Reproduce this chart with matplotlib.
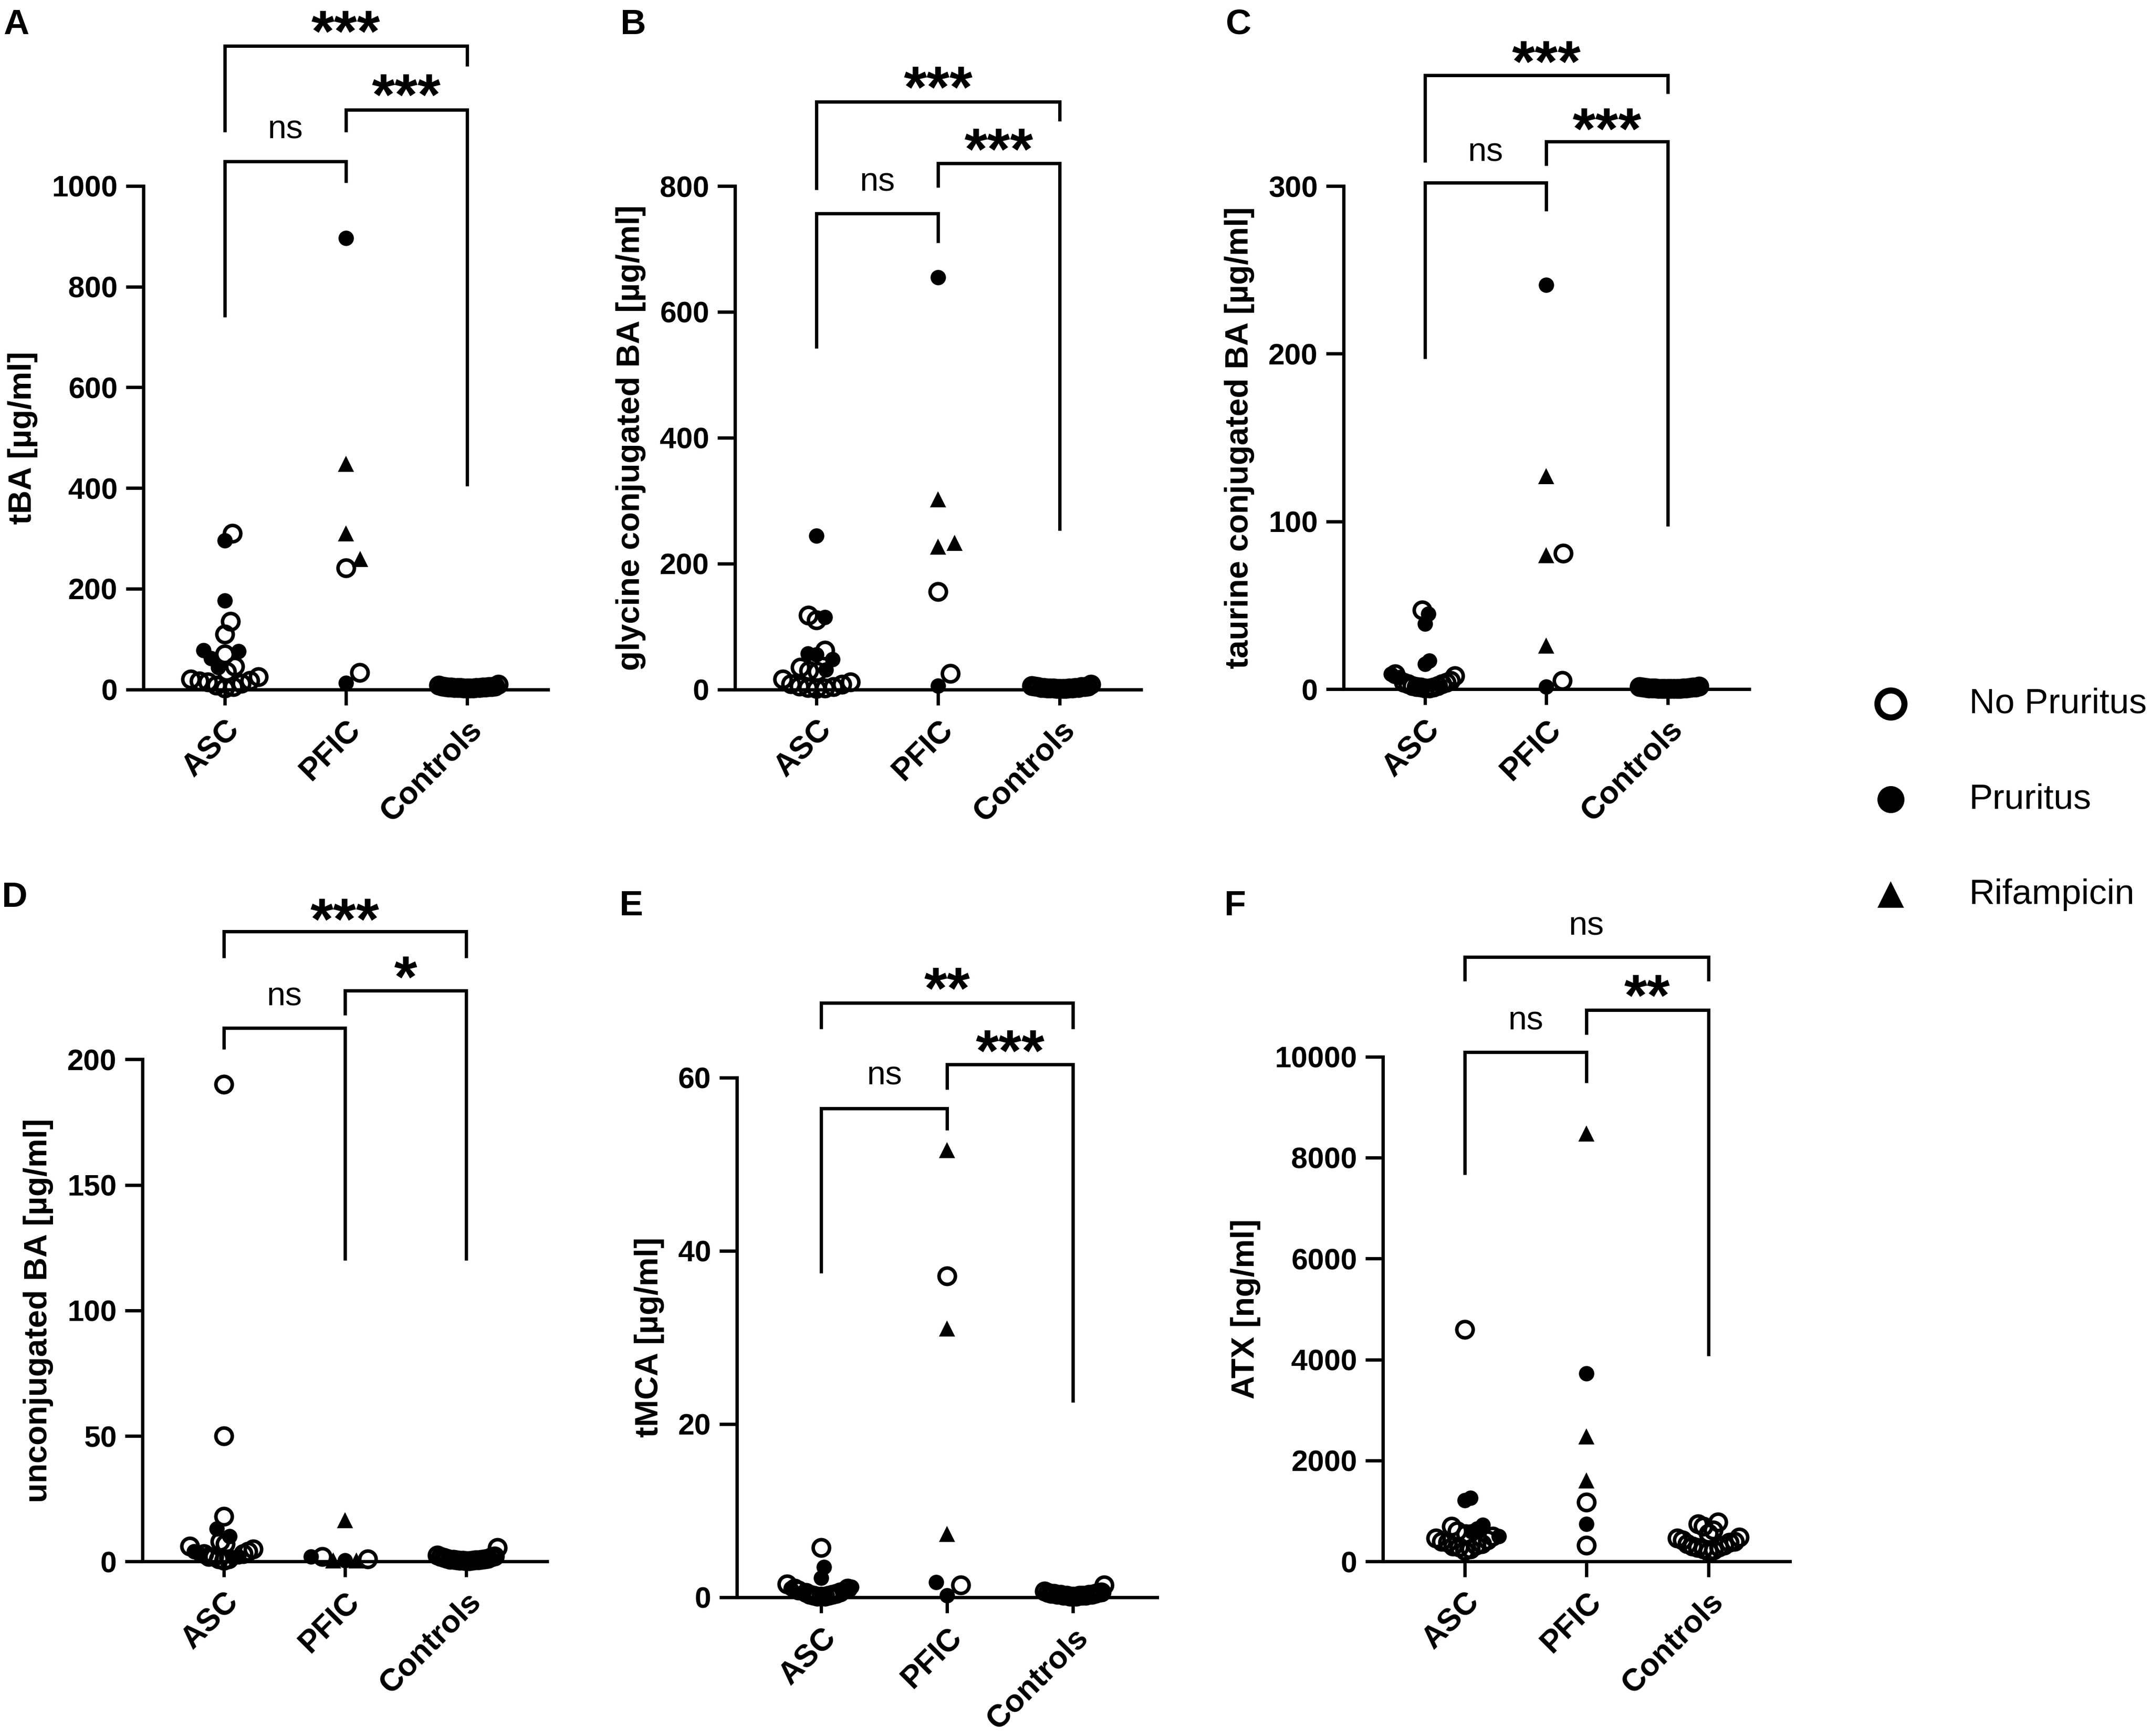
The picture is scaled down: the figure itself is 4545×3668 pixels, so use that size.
import numpy as np
import matplotlib
matplotlib.use("Agg")
import matplotlib.pyplot as plt
from matplotlib.transforms import offset_copy

plt.rcParams['font.family'] = ['Liberation Sans', 'DejaVu Sans']
plt.rcParams['font.weight'] = 'bold'

categories = ['ASC', 'PFIC', 'Controls']

# A - total bile acids
tba_asc_no = [310, 135, 110, 70, 46, 35, 25, 20, 17, 16, 15, 12, 8, 5, 2]
tba_asc_pru = [296, 176, 78, 76, 62, 44]
tba_pfic_no = [241, 33]
tba_pfic_pru = [897, 13]
tba_pfic_rif = [448, 310, 259]
tba_ctrl = [3, 4, 2, 5, 6, 3, 2, 4, 5, 8, 3, 2, 6, 4, 3, 5, 10, 2, 4, 3]

# B - glycine conjugated
gly_asc_no = [118, 110, 62, 35, 30, 28, 16, 12, 9, 8, 5, 4, 3, 2, 1]
gly_asc_pru = [244, 115, 57, 55, 48, 31]
gly_pfic_no = [155, 25]
gly_pfic_pru = [655, 6]
gly_pfic_rif = [302, 233, 227]
gly_ctrl = [2, 3, 1, 4, 5, 2, 1, 3, 4, 6, 2, 1, 5, 3, 2, 4, 8, 1, 3, 2]

# C - taurine conjugated
tau_asc_no = [47, 9, 8, 5, 4, 4, 3, 3, 2, 2, 1.5, 1, 1, 0.5, 0.5]
tau_asc_pru = [45, 39, 17, 15, 9, 7]
tau_pfic_no = [81, 5]
tau_pfic_pru = [241, 1.4]
tau_pfic_rif = [127, 80, 26]
tau_ctrl = [0.5, 1, 0.3, 0.8, 1.2, 0.4, 0.2, 0.6, 1.0, 1.5, 0.3, 0.2, 0.9, 0.5, 0.4, 0.7, 1.8, 0.3, 0.6, 0.4]

# D - unconjugated
unc_asc_no = [190, 50, 18, 8, 7, 6, 5, 4, 3, 3, 2, 2, 1, 1, 0.5]
unc_asc_pru = [13, 10, 4, 3, 2, 1.5]
unc_pfic_no = [2, 1]
unc_pfic_pru = [0.5, 2]
unc_pfic_rif = [16.5, 0.5, 0.5]
unc_ctrl = [5.5, 1, 0.5, 2, 1.5, 0.8, 0.3, 1.2, 0.6, 2.2, 0.4, 0.9, 1.7, 0.5, 1.1, 0.7, 2.5, 0.2, 0.6, 0.9]

# E - tMCA
tmca_asc_no = [5.7, 1.5, 1.0, 1.0, 0.8, 0.6, 0.5, 0.4, 0.3, 0.3, 0.2, 0.2, 0.1, 0.1, 0.1]
tmca_asc_pru = [3.5, 2.2, 1.2, 1.0, 0.8, 0.5]
tmca_pfic_no = [37.1, 1.4]
tmca_pfic_pru = [1.7, 0.2]
tmca_pfic_rif = [51.6, 31.0, 7.3]
tmca_ctrl = [1.4, 0.3, 0.2, 0.5, 0.4, 0.1, 0.2, 0.6, 0.3, 0.1, 0.4, 0.2, 0.5, 0.3, 0.1, 0.2, 0.7, 0.3, 0.2, 0.4]

# F - autotaxin
atx_asc_no = [4600, 700, 600, 550, 500, 460, 420, 400, 380, 350, 320, 300, 280, 250, 220]
atx_asc_pru = [1260, 1210, 720, 650, 590, 500]
atx_pfic_no = [1170, 320]
atx_pfic_pru = [3720, 745]
atx_pfic_rif = [8480, 2480, 1610]
atx_ctrl = [780, 740, 700, 620, 560, 480, 460, 420, 400, 380, 350, 320, 300, 280, 270, 250, 230, 200]

y_labels = ['tBA [µg/ml]', 'glycine conjugated BA [µg/ml]', 'taurine conjugated BA [µg/ml]',
            'unconjugated BA [µg/ml]', 'tMCA [µg/ml]', 'ATX [ng/ml]']
y_ticks = [np.arange(0, 1001, 200), np.arange(0, 801, 200), np.arange(0, 301, 100),
           np.arange(0, 201, 50), np.arange(0, 61, 20), np.arange(0, 10001, 2000)]
panel_letters = ['A', 'B', 'C', 'D', 'E', 'F']

panel_data = [
    (tba_asc_no, tba_asc_pru, tba_pfic_no, tba_pfic_pru, tba_pfic_rif, tba_ctrl),
    (gly_asc_no, gly_asc_pru, gly_pfic_no, gly_pfic_pru, gly_pfic_rif, gly_ctrl),
    (tau_asc_no, tau_asc_pru, tau_pfic_no, tau_pfic_pru, tau_pfic_rif, tau_ctrl),
    (unc_asc_no, unc_asc_pru, unc_pfic_no, unc_pfic_pru, unc_pfic_rif, unc_ctrl),
    (tmca_asc_no, tmca_asc_pru, tmca_pfic_no, tmca_pfic_pru, tmca_pfic_rif, tmca_ctrl),
    (atx_asc_no, atx_asc_pru, atx_pfic_no, atx_pfic_pru, atx_pfic_rif, atx_ctrl),
]

# significance brackets: (x1, x2, bar y, leg1 bottom, leg2 bottom, label, label y)
brackets = [
    [(0, 1, 1049, 740, 1007, 'ns', 1112), (1, 2, 1151, 1107, 404, '***', 1207), (0, 2, 1278, 1107, 1238, '***', 1333)],
    [(0, 1, 756, 542, 710, 'ns', 806), (1, 2, 836, 798, 252, '***', 879), (0, 2, 934, 794, 903, '***', 978)],
    [(0, 1, 302, 197, 285, 'ns', 320), (1, 2, 326.5, 312, 97, '***', 342), (0, 2, 366, 314, 355, '***', 382)],
    [(0, 1, 212.5, 204, 120, 'ns', 225), (1, 2, 227.3, 217.5, 120, '*', 238), (0, 2, 251, 240.4, 240.4, '***', 261)],
    [(0, 1, 56.4, 37.4, 53.9, 'ns', 60.2), (1, 2, 61.5, 58.6, 22.5, '***', 64.6), (0, 2, 68.6, 65.6, 65.6, '**', 71.8)],
    [(0, 1, 10087, 7663, 9478, 'ns', 10707), (1, 2, 10924, 10435, 4076, '**', 11467), (0, 2, 11978, 11500, 11500, 'ns', 12587)],
]

# layout in pixels: axis x, pixel row of zero, axis height, category spacing
W, H = 4545, 3668
layout = [(303, 1456.5, 1063.5, 256), (1553, 1456.5, 1063.5, 257), (2839, 1456, 1063, 256.5),
          (301, 3299.3, 1061, 256), (1557, 3374.6, 1098, 266), (2922, 3299.3, 1066.7, 257.5)]
letter_pos = [(7, 18), (1311, 18), (2590, 18), (4, 1862), (1309, 1880), (2587, 1880)]

LW = 1.7
open_style = dict(marker='o', ms=8.3, mfc='none', mec='black', mew=1.8, ls='none')
fill_style = dict(marker='o', ms=7.8, mfc='black', mec='black', mew=0, ls='none')
tri_style = dict(marker='^', ms=8.2, mfc='black', mec='black', mew=0, ls='none')

fig = plt.figure(figsize=(W / 300, H / 300), dpi=300)


def swarm_x(ax, xc, vals, diam=36.0, max_half=72.0):
    # simple beeswarm in pixel space, squeezed when it gets too wide
    vals = np.asarray(vals, dtype=float)
    ys = ax.transData.transform(np.column_stack([np.full(len(vals), xc), vals]))[:, 1]
    order = np.argsort(ys, kind='stable')
    px_list, py_list = [], []
    offs = np.zeros(len(vals))
    for i in order:
        y = ys[i]
        near = [(px, py) for px, py in zip(px_list, py_list) if abs(py - y) < diam]
        cands = [0.0]
        for px, py in near:
            dx = np.sqrt(diam ** 2 - (py - y) ** 2)
            cands += [px + dx, px - dx]
        cands.sort(key=abs)
        pick = 0.0
        for c in cands:
            if all((c - px) ** 2 + (y - py) ** 2 >= diam ** 2 - 1e-6 for px, py in near):
                pick = c
                break
        offs[i] = pick
        px_list.append(pick)
        py_list.append(y)
    m = np.abs(offs).max()
    if m > max_half:
        offs *= max_half / m
    unit = ax.transData.transform([(1, 0)])[0, 0] - ax.transData.transform([(0, 0)])[0, 0]
    return xc + offs / unit


def sig_text(ax, x, y, s):
    if '*' in s:
        fs, k, wt = 30, 0.56, 'bold'
    else:
        fs, k, wt = 17, 0.26, 'normal'
    tr = offset_copy(ax.transData, fig=fig, y=-k * fs, units='points')
    ax.text(x, y, s, transform=tr, ha='center', va='baseline', fontsize=fs,
            fontweight=wt, clip_on=False)


for p in range(6):
    left, y0, h, s = layout[p]
    ax = fig.add_axes([left / W, (H - y0) / H, 3.34 * s / W, h / H])
    ax.set_xlim(-0.67, 2.67)
    ax.set_ylim(0, y_ticks[p][-1])
    for sp in ['top', 'right']:
        ax.spines[sp].set_visible(False)
    for sp in ['left', 'bottom']:
        ax.spines[sp].set_linewidth(LW)
    ax.set_yticks(y_ticks[p])
    ax.set_xticks([0, 1, 2])
    ax.set_xticklabels(categories, rotation=45, ha='right', va='top',
                       rotation_mode='anchor', fontsize=16, fontweight='bold')
    ax.tick_params(axis='y', length=9, width=LW, labelsize=15, pad=4)
    ax.tick_params(axis='x', length=8, width=LW, pad=5)
    ax.set_ylabel(y_labels[p], fontsize=16.5, fontweight='bold', labelpad=7)

    asc_no, asc_pru, pfic_no, pfic_pru, pfic_rif, ctrl = panel_data[p]
    groups = [
        (0, [(v, 'no') for v in asc_no] + [(v, 'pru') for v in asc_pru], 72.0),
        (1, [(v, 'no') for v in pfic_no] + [(v, 'pru') for v in pfic_pru] + [(v, 'rif') for v in pfic_rif], 72.0),
        (2, [(v, 'no') for v in ctrl], 66.0),
    ]
    for xc, pts, half in groups:
        vals = np.array([v for v, k in pts])
        kinds = np.array([k for v, k in pts])
        xs = swarm_x(ax, xc, vals, max_half=half)
        for kind, st in [('no', open_style), ('pru', fill_style), ('rif', tri_style)]:
            sel = kinds == kind
            if sel.any():
                ax.plot(xs[sel], vals[sel], clip_on=False, zorder=3, **st)

    for x1, x2, yb, yl1, yl2, lab, yt in brackets[p]:
        ax.plot([x1, x1, x2, x2], [yl1, yb, yb, yl2], color='black', lw=LW,
                clip_on=False, solid_joinstyle='miter', solid_capstyle='butt')
        sig_text(ax, (x1 + x2) / 2, yt, lab)

    lx, ly = letter_pos[p]
    fig.text(lx / W, 1 - ly / H, panel_letters[p], fontsize=18, fontweight='bold',
             ha='left', va='top')

# legend
lax = fig.add_axes([3900 / W, (H - 1991) / H, 645 / W, 604.5 / H])
lax.set_xlim(0, 1)
lax.set_ylim(-0.5, 2.5)
lax.axis('off')
leg_items = [('No Pruritus', dict(marker='o', ms=13.7, mfc='none', mec='black', mew=3.1)),
             ('Pruritus', dict(marker='o', ms=13.7, mfc='black', mec='black', mew=0)),
             ('Rifampicin', dict(marker='^', ms=13.4, mfc='black', mec='black', mew=0))]
for i, (lab, st) in enumerate(leg_items):
    yy = 2 - i
    lax.plot([0.147], [yy], ls='none', clip_on=False, **st)
    lax.text(0.405, yy, lab, fontsize=18, fontweight='normal', ha='left', va='center')

fig.savefig('out.png', dpi=300, facecolor='white')
